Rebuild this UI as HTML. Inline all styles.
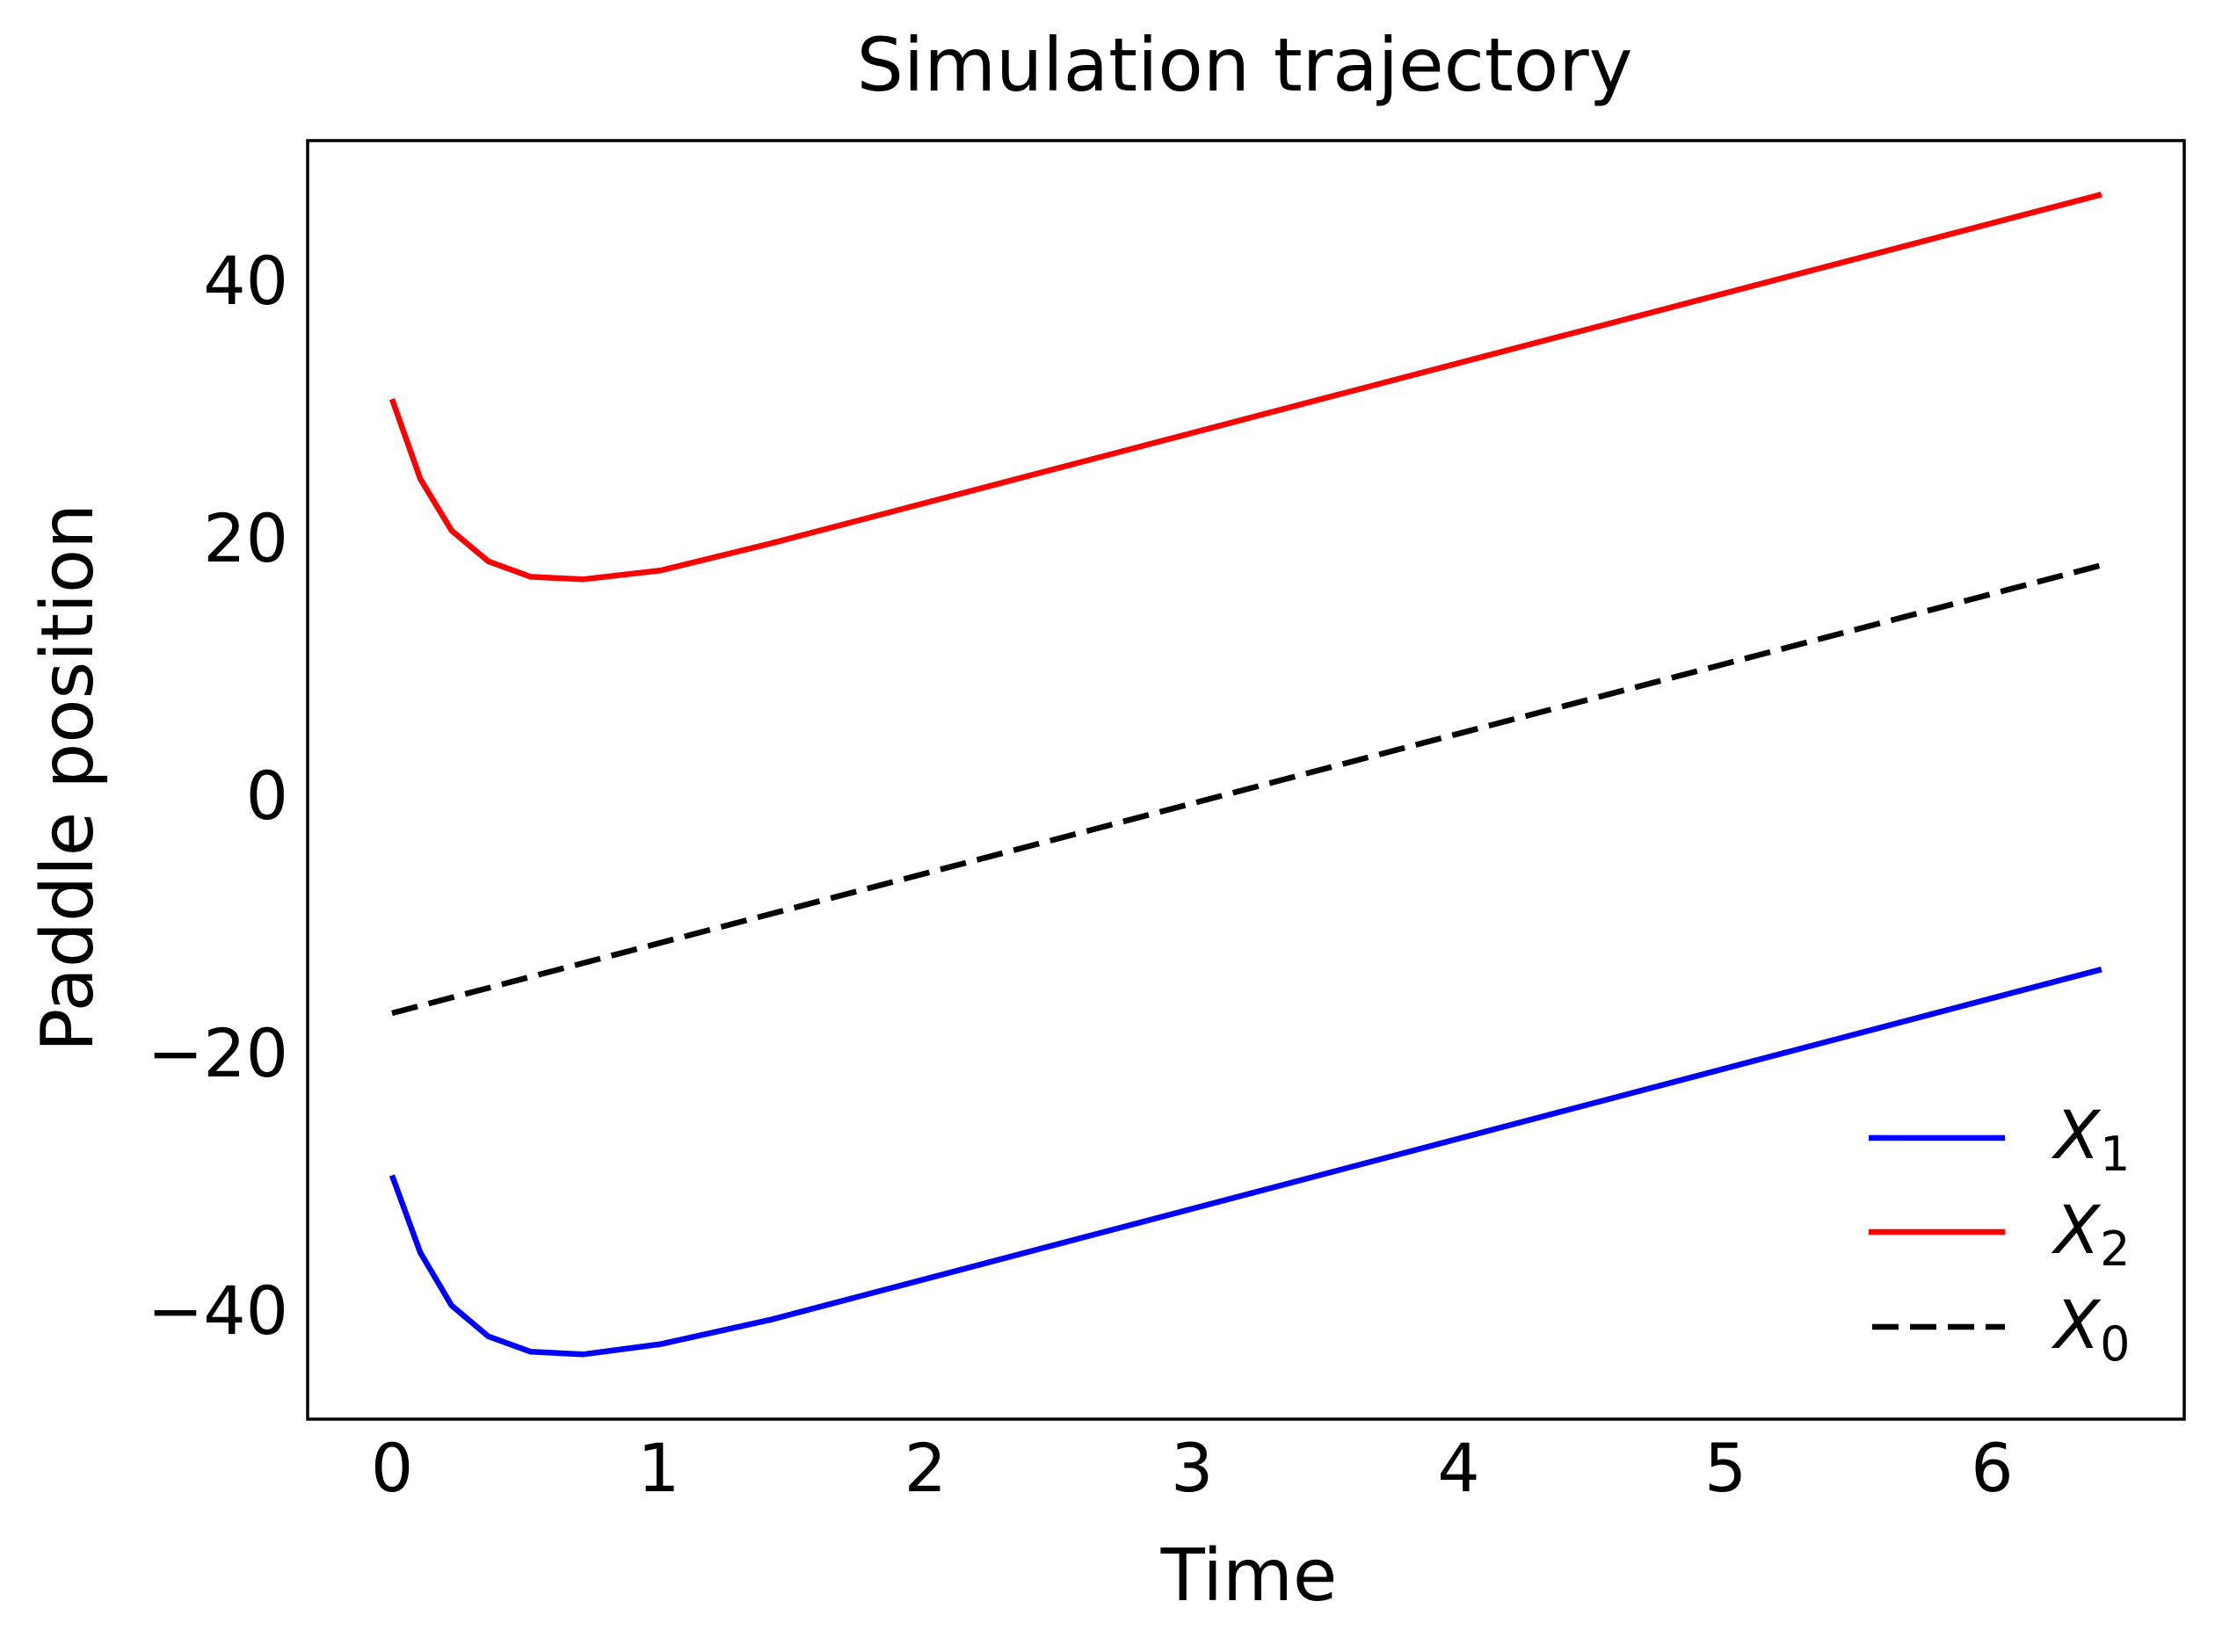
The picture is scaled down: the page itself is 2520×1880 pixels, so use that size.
<!DOCTYPE html>
<html><head><meta charset="utf-8"><style>
html,body{margin:0;padding:0;background:#fff;}
svg{display:block;font-family:"DejaVu Sans","Liberation Sans",sans-serif;}
</style></head><body>
<svg id="chart" width="2520" height="1880" viewBox="0 0 2520 1880" xmlns="http://www.w3.org/2000/svg">
<rect x="0" y="0" width="2520" height="1880" fill="#fff"/>
<text x="1416" y="103" font-size="84" text-anchor="middle">Simulation trajectory</text>
<g id="lines"></g>
<rect x="350" y="160" width="2135" height="1455" fill="none" stroke="#000" stroke-width="3.5"/>
<g id="xticks"></g>
<g id="yticks"></g>
<text x="1421" y="1821" font-size="82" text-anchor="middle">Time</text>
<text x="0" y="0" font-size="82" text-anchor="middle" transform="translate(105,885) rotate(-90)">Paddle position</text>
<g>
  <line x1="2126" y1="1295" x2="2281" y2="1295" stroke="#0000ff" stroke-width="6.5"/>
  <text x="2337" y="1318" font-size="76" font-style="italic">X<tspan font-style="normal" font-size="54" dy="14">1</tspan></text>
  <line x1="2126" y1="1402" x2="2281" y2="1402" stroke="#ff0000" stroke-width="6.5"/>
  <text x="2337" y="1426" font-size="76" font-style="italic">X<tspan font-style="normal" font-size="54" dy="14">2</tspan></text>
  <line x1="2130" y1="1510" x2="2281" y2="1510" stroke="#000" stroke-width="6.5" stroke-dasharray="30,13"/>
  <text x="2337" y="1534" font-size="76" font-style="italic">X<tspan font-style="normal" font-size="54" dy="14">0</tspan></text>
</g>
</svg>
<script>
const timeX1 = [0, 0.106, 0.223, 0.361, 0.520, 0.716, 1.008, 1.422, 6.41];
const valuesX1 = [-29.6, -35.6, -39.7, -42.1, -43.3, -43.5, -42.7, -40.8, -13.6];
const timeX2 = [0, 0.106, 0.223, 0.361, 0.520, 0.716, 1.008, 1.422, 6.41];
const valuesX2 = [30.7, 24.5, 20.5, 18.1, 16.9, 16.7, 17.4, 19.5, 46.6];
const timeX0 = [0, 6.41];
const valuesX0 = [-17.0, 17.8];
const xTickLabels = [0, 1, 2, 3, 4, 5, 6];
const yTickLabels = [-40, -20, 0, 20, 40];

const NS = 'http://www.w3.org/2000/svg';
function xScale(t){ return 446 + t * 303.4; }
function yScale(v){ return 904 - v * 14.65; }

const lines = document.getElementById('lines');
function drawSeries(ts, vs, color, name, dash){
  const p = document.createElementNS(NS, 'polyline');
  p.setAttribute('points', ts.map((t,i)=>xScale(t).toFixed(1)+','+yScale(vs[i]).toFixed(1)).join(' '));
  p.setAttribute('fill','none');
  p.setAttribute('stroke',color);
  p.setAttribute('stroke-width','6.5');
  p.setAttribute('stroke-linejoin','round');
  if (dash) p.setAttribute('stroke-dasharray', dash);
  
  
  lines.appendChild(p);
}
drawSeries(timeX1, valuesX1, '#0000ff', 'series-x1', null);
drawSeries(timeX2, valuesX2, '#ff0000', 'series-x2', null);
drawSeries(timeX0, valuesX0, '#000000', 'series-x0', '30,13');

const xt = document.getElementById('xticks');
xTickLabels.forEach(v=>{
  const t = document.createElementNS(NS,'text');
  t.setAttribute('x', xScale(v));
  t.setAttribute('y', 1697);
  t.setAttribute('font-size','76');
  t.setAttribute('text-anchor','middle');
  t.textContent = String(v);
  
  
  xt.appendChild(t);
});
const yt = document.getElementById('yticks');
yTickLabels.forEach(v=>{
  const t = document.createElementNS(NS,'text');
  t.setAttribute('x', 328);
  t.setAttribute('y', yScale(v) + 28);
  t.setAttribute('font-size','76');
  t.setAttribute('text-anchor','end');
  t.textContent = v < 0 ? '\u2212' + Math.abs(v) : String(v);
  
  
  yt.appendChild(t);
});
</script>
</body></html>
